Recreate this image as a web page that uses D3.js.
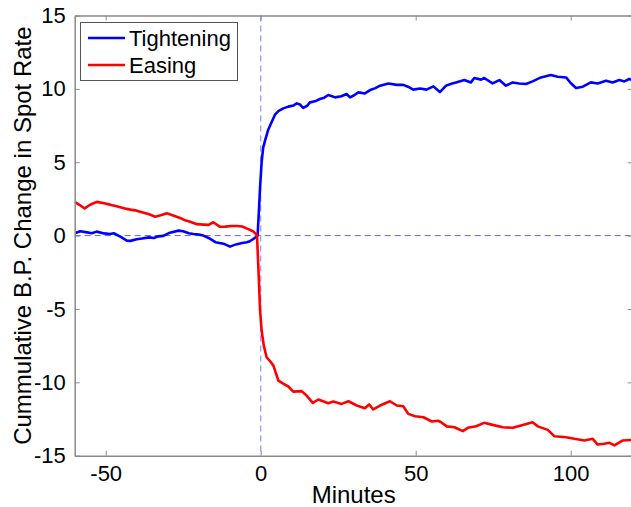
<!DOCTYPE html>
<html>
<head>
<meta charset="utf-8">
<script src="https://cdn.jsdelivr.net/npm/d3@7"></script>
<style>
  html, body { margin: 0; padding: 0; background: #fff; }
  svg { display: block; font-family: Arial, "Liberation Sans", Helvetica, sans-serif; }
</style>
</head>
<body>
<svg id="chart" width="631" height="507"></svg>
<script>
// Minutes relative to the announcement
const tighteningMinutes = [-60,-58.2,-56,-54.5,-52.9,-50.5,-48.6,-47.4,-45,-43.2,-42,-40,-38.3,-36,-34.5,-33,-31.4,-29.3,-26.5,-25,-23.2,-21.7,-20,-18.5,-16.8,-14.6,-12,-9.9,-8,-6,-4.5,-3.5,-2.9,-1.5,-1,
  -0.5,-0.2,0.3,0.8,1.4,2.4,3,4.6,5.8,7.3,8.9,10.5,11.6,12.7,13.7,15,15.9,17.5,19.1,20.5,21.8,23,24,26,27.7,28.8,30,31.5,33.6,35.3,37,38.5,41.2,43.9,46,47.5,49.2,51.4,53.5,55.7,57.8,59.8,61.5,63,65.7,67.8,68.9,71.1,72.1,74.8,77,79.1,81.3,83.4,85.6,87.7,90.4,93.6,95.8,98.5,100,101.7,103.9,106.5,108.7,111.4,113.5,115.7,117.3,118.9,120];
// Cumulative basis-point change, tightening announcements
const tighteningValues = [0.16,0.3,0.22,0.16,0.27,0.15,0.11,0.16,-0.1,-0.34,-0.36,-0.25,-0.2,-0.12,-0.16,-0.05,-0.02,0.2,0.34,0.3,0.16,0.11,0.07,0,-0.16,-0.45,-0.55,-0.75,-0.6,-0.5,-0.45,-0.38,-0.3,-0.1,0,
  2.0,3.3,5.0,6.0,6.47,7.2,7.49,8.24,8.5,8.67,8.79,8.86,9.01,8.93,8.7,8.85,9.08,9.15,9.31,9.4,9.58,9.5,9.42,9.5,9.65,9.42,9.55,9.76,9.69,9.92,10.05,10.22,10.37,10.27,10.27,10.15,9.95,10.03,9.95,10.17,9.78,10.22,10.35,10.44,10.6,10.44,10.74,10.63,10.74,10.37,10.6,10.22,10.44,10.37,10.33,10.51,10.78,10.95,10.83,10.78,10.4,10.06,10.15,10.44,10.37,10.56,10.44,10.6,10.51,10.67,10.6];

const easingMinutes = [-60,-58.5,-56.8,-55,-52.9,-50.5,-48.6,-46.5,-44.7,-43.2,-42,-40.5,-38.9,-36,-34,-32,-30.3,-28,-26,-24.5,-23.2,-20.6,-18.5,-16.8,-15.3,-13.1,-11.4,-9.5,-7.7,-6,-4.2,-2.5,-1.2,
  -0.8,-0.5,-0.2,0.3,1,1.9,3,4.1,5.7,7.8,9,10.5,13.2,14.8,16.8,18.6,21.8,23.4,26.1,28.3,31,33.6,35,36.3,38.5,41.7,43.9,46,47.6,49.8,52.5,55.2,57.3,58.2,60,62.5,65.2,66.8,69.5,72.1,74.8,78.1,81.3,84,87.7,89.4,92.6,94.7,98.5,101.2,104.4,107.1,108.7,110.8,112.5,114.1,116.8,120];
// Cumulative basis-point change, easing announcements
const easingValues = [2.3,2.1,1.85,2.1,2.3,2.2,2.11,2.0,1.9,1.82,1.77,1.72,1.62,1.45,1.29,1.4,1.52,1.35,1.2,1.05,0.98,0.78,0.75,0.73,0.91,0.6,0.61,0.65,0.65,0.62,0.46,0.3,0.05,
  -1.93,-3.5,-5.1,-6.47,-7.5,-8.29,-8.55,-8.86,-9.88,-10.15,-10.3,-10.63,-10.6,-10.9,-11.4,-11.17,-11.42,-11.31,-11.47,-11.29,-11.58,-11.76,-11.51,-11.85,-11.58,-11.29,-11.58,-11.63,-12.15,-12.31,-12.38,-12.67,-12.62,-12.72,-13.0,-13.06,-13.33,-13.1,-12.99,-12.76,-12.9,-13.06,-13.1,-12.94,-12.72,-13.0,-13.24,-13.67,-13.74,-13.85,-13.96,-13.85,-14.24,-14.19,-14.12,-14.3,-13.96,-13.92];

const seriesNames = ["Tightening", "Easing"];
const seriesColors = ["#0000ff", "#ff0000"];
const xTicks = [-50, 0, 50, 100];
const yTicks = [-15, -10, -5, 0, 5, 10, 15];
const xDomain = [-60, 120];
const yDomain = [-15, 15];

const svg = d3.select("#chart");
const plot = { left: 74.7, right: 632.7, top: 15.5, bottom: 455.7 };

const x = d3.scaleLinear().domain(xDomain).range([plot.left, plot.right]);
const y = d3.scaleLinear().domain(yDomain).range([plot.bottom, plot.top]);

const axisColor = "#8a8a8a";
const tickLen = 5;
// plain hyphen-minus for negative tick labels
const tickFmt = d => String(d);

svg.append("clipPath").attr("id", "plotClip")
  .append("rect")
  .attr("x", plot.left).attr("y", plot.top)
  .attr("width", plot.right - plot.left).attr("height", plot.bottom - plot.top);

// Reference lines at the announcement time and at zero change
svg.append("line")
  .attr("x1", plot.left).attr("x2", plot.right)
  .attr("y1", y(0)).attr("y2", y(0))
  .attr("stroke", "#6464d8").attr("stroke-width", 1)
  .attr("stroke-dasharray", "6,4");
svg.append("line")
  .attr("x1", x(0)).attr("x2", x(0))
  .attr("y1", plot.top).attr("y2", plot.bottom)
  .attr("stroke", "#9a9aff").attr("stroke-width", 1.3)
  .attr("stroke-dasharray", "6,4");

// Data lines
const line = d3.line().x(d => x(d[0])).y(d => y(d[1]));
const series = [
  d3.zip(tighteningMinutes, tighteningValues),
  d3.zip(easingMinutes, easingValues)
];
const dataG = svg.append("g").attr("clip-path", "url(#plotClip)");
series.forEach((pts, i) => {
  dataG.append("path")
    .datum(pts)
    .attr("d", line)
    .attr("fill", "none")
    .attr("stroke", seriesColors[i])
    .attr("stroke-width", 2.6)
    .attr("stroke-linejoin", "round");
});

// Axes with inward ticks on all four sides
const bottomAxis = d3.axisBottom(x).tickValues(xTicks).tickFormat(tickFmt).tickSizeInner(-tickLen).tickSizeOuter(0).tickPadding(10);
const leftAxis = d3.axisLeft(y).tickValues(yTicks).tickFormat(tickFmt).tickSizeInner(-tickLen).tickSizeOuter(0).tickPadding(9);
const topAxis = d3.axisTop(x).tickValues(xTicks).tickSizeInner(-tickLen).tickSizeOuter(0).tickFormat("");
const rightAxis = d3.axisRight(y).tickValues(yTicks).tickSizeInner(-tickLen).tickSizeOuter(0).tickFormat("");

function styleAxis(g) {
  g.select(".domain").attr("stroke", axisColor).attr("stroke-width", 1.5);
  g.selectAll(".tick line").attr("stroke", axisColor).attr("stroke-width", 1);
  g.selectAll(".tick text").attr("fill", "#000").style("font-size", "22px");
}

svg.append("g").attr("transform", `translate(0,${plot.bottom})`).call(bottomAxis).call(styleAxis);
svg.append("g").attr("transform", `translate(${plot.left},0)`).call(leftAxis).call(styleAxis);
svg.append("g").attr("transform", `translate(0,${plot.top})`).call(topAxis).call(styleAxis);
svg.append("g").attr("transform", `translate(${plot.right},0)`).call(rightAxis).call(styleAxis);

svg.selectAll("text").attr("font-family", null);

// Axis titles
svg.append("text")
  .attr("x", (plot.left + plot.right) / 2)
  .attr("y", 503)
  .attr("text-anchor", "middle")
  .style("font-size", "24px")
  .text("Minutes");
svg.append("text")
  .attr("transform", `translate(31,${(plot.top + plot.bottom) / 2}) rotate(-90)`)
  .attr("text-anchor", "middle")
  .style("font-size", "24px")
  .text("Cummulative B.P. Change in Spot Rate");

// Legend
const legend = svg.append("g");
legend.append("rect")
  .attr("x", 80.5).attr("y", 22.5)
  .attr("width", 157).attr("height", 58)
  .attr("fill", "#fff").attr("stroke", "#555").attr("stroke-width", 1);
seriesNames.forEach((name, i) => {
  const cy = 38 + i * 27;
  legend.append("line")
    .attr("x1", 88).attr("x2", 125)
    .attr("y1", cy).attr("y2", cy)
    .attr("stroke", seriesColors[i]).attr("stroke-width", 2.6);
  legend.append("text")
    .attr("x", 129).attr("y", cy + 8)
    .style("font-size", "22px")
    .text(name);
});
</script>
</body>
</html>
